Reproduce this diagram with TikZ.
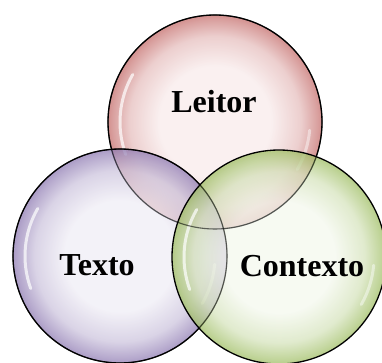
\documentclass[tikz,border=0pt]{standalone}
\usepackage{fontspec}
\setmainfont{Liberation Serif}

\definecolor{leitorin}{HTML}{F8EBEB}
\definecolor{leitorrim}{HTML}{C46C6A}
\definecolor{textoin}{HTML}{EFEDF5}
\definecolor{textorim}{HTML}{8E7AB2}
\definecolor{contextoin}{HTML}{F4F8EE}
\definecolor{contextorim}{HTML}{9EBD62}

% bubble shadings: pale body, coloured rim
\pgfdeclareradialshading{leitorshade}{\pgfpoint{0bp}{0bp}}{color(0bp)=(leitorin); color(13bp)=(leitorin); color(20bp)=(leitorrim!35!leitorin); color(24bp)=(leitorrim!85!leitorin); color(25bp)=(leitorrim); color(50bp)=(leitorrim)}
\pgfdeclareradialshading{textoshade}{\pgfpoint{0bp}{0bp}}{color(0bp)=(textoin); color(13bp)=(textoin); color(20bp)=(textorim!35!textoin); color(24bp)=(textorim!85!textoin); color(25bp)=(textorim); color(50bp)=(textorim)}
\pgfdeclareradialshading{contextoshade}{\pgfpoint{0bp}{0bp}}{color(0bp)=(contextoin); color(13bp)=(contextoin); color(20bp)=(contextorim!35!contextoin); color(24bp)=(contextorim!85!contextoin); color(25bp)=(contextorim); color(50bp)=(contextorim)}

\tikzset{
  bubble/.style={fill opacity=.75, draw=black, draw opacity=1, line width=1.3pt},
  rim/.style={draw=black, line width=1.1pt, opacity=.55},
  gloss/.style={white, line width=3pt, line cap=round, opacity=.7},
  word/.style={font=\bfseries\fontsize{32}{32}\selectfont, anchor=base, inner sep=0pt}
}

\begin{document}
\begin{tikzpicture}[x=1pt,y=1pt]
\useasboundingbox (0,0) rectangle (382,362);
\coordinate (leitor) at (215,240);
\coordinate (texto) at (120,106);
\coordinate (contexto) at (279,105);
% the three bubbles, later ones lie over the earlier ones
\foreach \c in {leitor,texto,contexto}
{
   \shade[shading=\c shade, bubble] (\c) circle[radius=107pt];
   \draw[gloss] ([shift={(150:95pt)}]\c) arc[start angle=150, end angle=200, radius=95pt];
   \draw[gloss, opacity=.45] ([shift={(-30:95pt)}]\c) arc[start angle=-30, end angle=-5, radius=95pt];
}
% outlines showing through the overlaps
\foreach \c in {leitor,texto}
   \draw[rim] (\c) circle[radius=107pt];
\node[word] (leitorlabel) at (214,250) {Leitor};
\node[word] (textolabel) at (97,87) {Texto};
\node[word] (contextolabel) at (302,86) {Contexto};
\end{tikzpicture}
\end{document}
